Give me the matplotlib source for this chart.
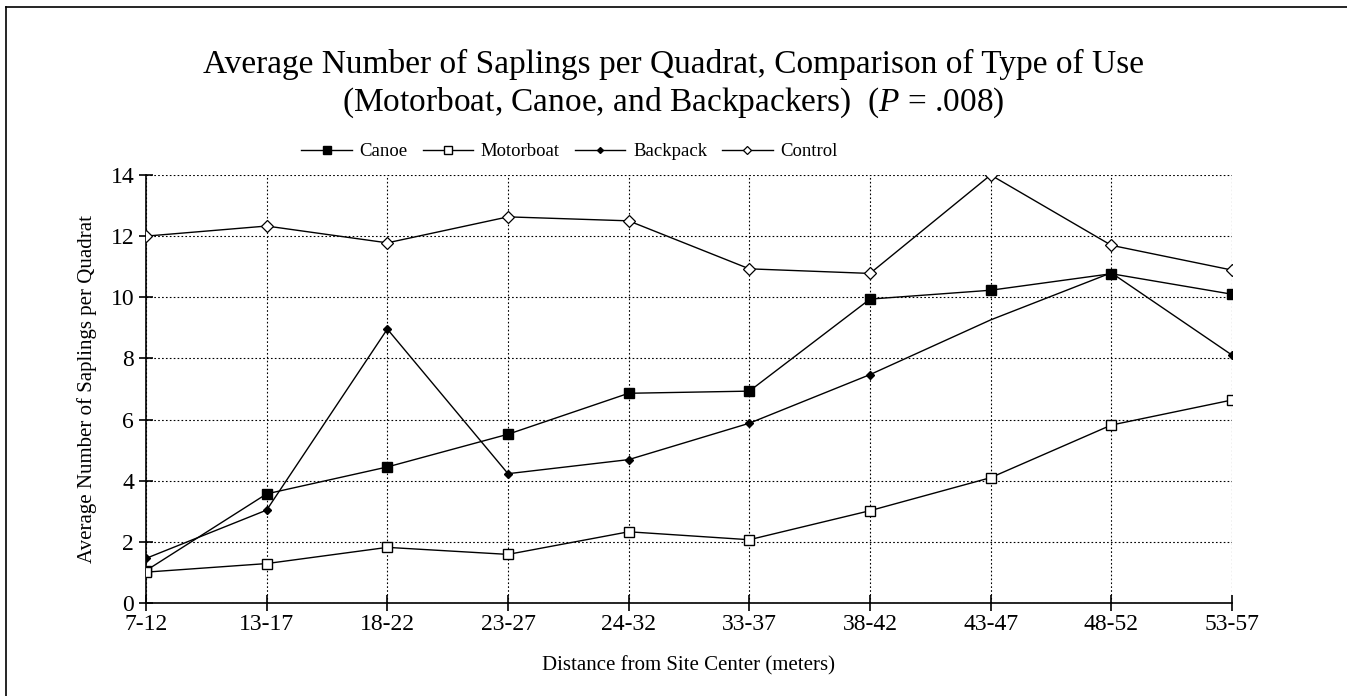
import matplotlib
matplotlib.use("Agg")
import matplotlib.pyplot as plt
from matplotlib.lines import Line2D

plt.rcParams['font.family'] = ['Liberation Serif', 'DejaVu Serif']
plt.rcParams['mathtext.fontset'] = 'custom'
plt.rcParams['mathtext.it'] = 'Liberation Serif:italic'
plt.rcParams['mathtext.rm'] = 'Liberation Serif'

# data
distances = ["7-12", "13-17", "18-22", "23-27", "24-32",
             "33-37", "38-42", "43-47", "48-52", "53-57"]
canoe = [1.06, 3.57, 4.45, 5.52, 6.86, 6.93, 9.94, 10.23, 10.77, 10.1]
motorboat = [1.01, 1.29, 1.82, 1.59, 2.33, 2.07, 3.02, 4.1, 5.82, 6.64]
backpack = [1.46, 3.04, 8.96, 4.23, 4.69, 5.88, 7.47, 9.26, 10.8, 8.11]
control = [12.0, 12.33, 11.78, 12.63, 12.5, 10.93, 10.78, 14.0, 11.7, 10.89]

fig = plt.figure(figsize=(13.47, 6.96), dpi=100)
ax = fig.add_axes([0.1084, 0.1336, 0.8062, 0.615])

x = list(range(len(distances)))

ax.plot(x, canoe, color='black', lw=1, marker='s', ms=7.5,
        mfc='black', mec='black', label='Canoe', zorder=3)
ax.plot(x, motorboat, color='black', lw=1, marker='s', ms=7.5,
        mfc='white', mec='black', mew=1, label='Motorboat', zorder=3)
# the 43-47 backpack marker isn't drawn in the original
bp_marks = [i for i in x if i != 7]
ax.plot(x, backpack, color='black', lw=1, marker='D', ms=4,
        mfc='black', mec='black', markevery=bp_marks, label='Backpack', zorder=3)
ax.plot(x, control, color='black', lw=1, marker='D', ms=6,
        mfc='white', mec='black', mew=0.9, label='Control', zorder=3)

ax.set_xlim(0, len(distances) - 1)
ax.set_ylim(0, 14)
ax.set_xticks(x)
ax.set_xticklabels(distances)
ax.set_yticks(range(0, 15, 2))
ax.tick_params(axis='both', labelsize=17, direction='inout', length=10, width=1.2)
ax.tick_params(axis='x', length=12, pad=2)

ax.grid(True, color='black', linestyle=(0, (1.5, 2)), lw=0.8)
ax.spines['top'].set_visible(False)
ax.spines['right'].set_visible(False)
ax.spines['left'].set_linewidth(1.2)
ax.spines['bottom'].set_linewidth(1.2)

ax.set_xlabel('Distance from Site Center (meters)', fontsize=15, labelpad=15)
ax.set_ylabel('Average Number of Saplings per Quadrat', fontsize=15, labelpad=10)

fig.text(0.5, 0.907, 'Average Number of Saplings per Quadrat, Comparison of Type of Use',
         ha='center', va='center', fontsize=24)
fig.text(0.5, 0.852, r'(Motorboat, Canoe, and Backpackers)  ($P$ = .008)',
         ha='center', va='center', fontsize=24)

ax.legend(loc='lower center', bbox_to_anchor=(0.39, 1.008), ncol=4, frameon=False,
          fontsize=13.5, handlelength=2.7, columnspacing=0.8, handletextpad=0.4,
          markerscale=0.75, borderaxespad=0.2)

# page frame (left and top edges)
fig.add_artist(Line2D([0.0045, 0.0045], [0.0, 0.99], color='black', lw=1.2))
fig.add_artist(Line2D([0.0045, 1.0], [0.99, 0.99], color='black', lw=1.2))

fig.savefig('out.png', dpi=100, facecolor='white')
